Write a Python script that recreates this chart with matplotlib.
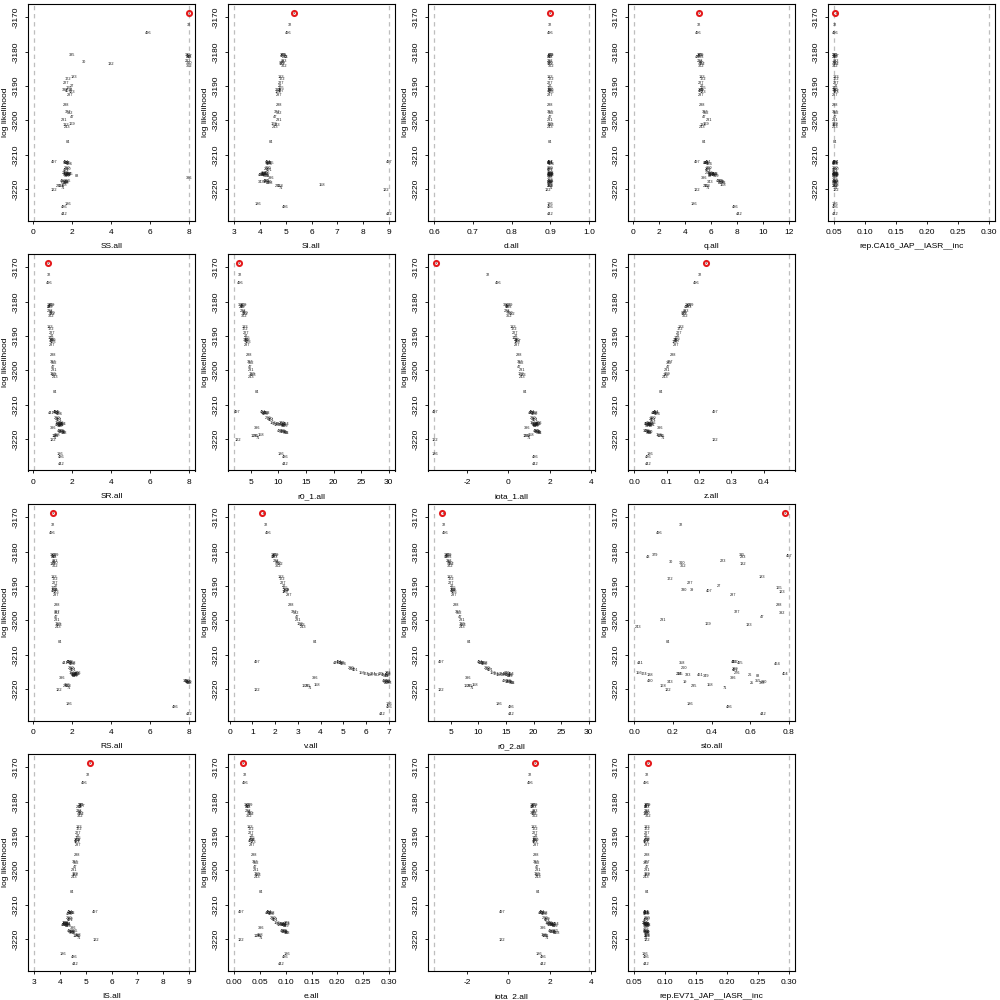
import matplotlib
matplotlib.use('Agg')
import matplotlib.pyplot as plt

plt.rcParams['font.family'] = ['Liberation Sans', 'DejaVu Sans']

ids = ["1","32","496",
       "385","457","43","379","283",
       "30","310","223","132","362",
       "183","172","227","27",
       "165","330","39","407","123",
       "287","288",
       "327","392","47","231",
       "169","133","243","84",
       "441","497","481","495","464","358",
       "260","210","401",
       "156","174","138","224","333","135","461","349","276","26","88","404",
       "396",
       "430","343","290","19","25","355","328",
       "168","235","71","158",
       "122","186","486","442"]

loglik = [-3168.7, -3172.3, -3174.4,
          -3180.9, -3181.2, -3181.4, -3181.0, -3181.6,
          -3182.9, -3183.2, -3182.7, -3183.6, -3184.0,
          -3187.2, -3187.9, -3189.0, -3190.0,
          -3190.6, -3191.1, -3191.0, -3191.3, -3191.6,
          -3192.6, -3195.6,
          -3197.4, -3197.7, -3199.1, -3200.0,
          -3201.0, -3201.4, -3201.8, -3206.4,
          -3212.4, -3212.2, -3212.0, -3212.3, -3212.6, -3212.5,
          -3213.8, -3214.1, -3214.3,
          -3215.3, -3215.6, -3215.8, -3215.5, -3216.0, -3215.7, -3215.9, -3216.1, -3215.4, -3215.8, -3216.2, -3215.6,
          -3216.6,
          -3217.6, -3217.9, -3218.0, -3217.8, -3218.1, -3217.7, -3218.2,
          -3219.2, -3219.0, -3219.5, -3218.9,
          -3220.3, -3224.2, -3225.3, -3227.2]

SS = [8.0, 8.0, 5.9,
      2.0, 8.0, 8.0, 7.95, 8.0,
      2.6, 8.0, 7.95, 4.0, 8.0,
      2.1, 1.8, 1.7, 2.0,
      1.85, 1.65, 1.95, 1.8, 2.0,
      1.9, 1.7,
      1.8, 1.9, 2.0, 1.6,
      2.0, 1.7, 1.75, 1.8,
      1.75, 1.1, 1.7, 1.8, 1.85, 1.7,
      1.75, 1.8, 1.7,
      1.7, 1.8, 1.75, 1.85, 1.7, 1.9, 1.8, 1.75, 1.65, 1.85, 2.25, 1.7,
      8.0,
      1.55, 1.7, 1.6, 1.75, 1.65, 1.8, 1.7,
      1.45, 1.35, 1.55, 1.6,
      1.05, 1.8, 1.6, 1.6]

SI = [5.33, 5.16, 5.1,
      4.95, 4.9, 5.0, 4.88, 4.97,
      4.9, 4.86, 4.95, 4.85, 4.92,
      4.82, 4.86, 4.8, 4.76,
      4.8, 4.7, 4.76, 4.82, 4.68,
      4.72, 4.73,
      4.66, 4.74, 4.6, 4.75,
      4.55, 4.65, 4.6, 4.42,
      4.38, 9.0, 4.32, 4.42, 4.36, 4.3,
      4.3, 4.26, 4.36,
      4.15, 4.1, 4.2, 4.25, 4.08, 4.16, 4.05, 4.22, 4.27, 4.12, 4.3, 4.18,
      4.45,
      4.25, 4.06, 4.35, 4.2, 4.3, 4.26, 4.4,
      4.77, 4.7, 4.82, 6.39,
      8.87, 3.93, 4.97, 9.0]

d = [0.9, 0.9, 0.9,
     0.901, 0.899, 0.9, 0.902, 0.9,
     0.9, 0.901, 0.899, 0.9, 0.902,
     0.9, 0.901, 0.899, 0.9,
     0.9, 0.902, 0.899, 0.9, 0.901,
     0.9, 0.9,
     0.9, 0.901, 0.899, 0.9,
     0.9, 0.901, 0.9, 0.9,
     0.9, 0.899, 0.901, 0.9, 0.902, 0.899,
     0.9, 0.901, 0.9,
     0.899, 0.9, 0.901, 0.902, 0.9, 0.899, 0.901, 0.9, 0.902, 0.9, 0.901, 0.899,
     0.9,
     0.9, 0.901, 0.899, 0.902, 0.9, 0.901, 0.9,
     0.9, 0.899, 0.901, 0.9,
     0.895, 0.9, 0.9, 0.9]

q = [5.05, 5.05, 5.05,
     5.15, 5.2, 4.9, 5.25, 5.2,
     5.25, 5.2, 5.15, 5.3, 5.25,
     5.3, 5.35, 5.25, 5.3,
     5.35, 5.2, 5.3, 5.25, 5.35,
     5.2, 5.3,
     5.55, 5.6, 5.5, 5.85,
     5.6, 5.4, 5.3, 5.45,
     5.6, 4.95, 5.75, 5.7, 5.85, 5.65,
     5.85, 5.8, 5.75,
     5.9, 6.0, 6.1, 6.2, 6.3, 6.1, 6.0, 6.4, 5.8, 6.2, 5.95, 6.35,
     5.5,
     6.6, 5.9, 6.75, 6.9, 6.7, 6.8, 6.95,
     5.7, 5.6, 5.75, 6.9,
     4.9, 4.7, 7.9, 8.2]

repCA16 = [0.052, 0.052, 0.052,
           0.052, 0.053, 0.052, 0.051, 0.052,
           0.052, 0.052, 0.053, 0.052, 0.051,
           0.052, 0.052, 0.053, 0.052,
           0.052, 0.051, 0.052, 0.053, 0.052,
           0.052, 0.052,
           0.052, 0.053, 0.052, 0.052,
           0.052, 0.051, 0.052, 0.052,
           0.052, 0.052, 0.053, 0.052, 0.051, 0.052,
           0.052, 0.053, 0.052,
           0.052, 0.053, 0.052, 0.051, 0.052, 0.053, 0.052, 0.052, 0.051, 0.053, 0.055, 0.052,
           0.052,
           0.052, 0.053, 0.052, 0.051, 0.052, 0.053, 0.052,
           0.052, 0.052, 0.053, 0.052,
           0.052, 0.052, 0.052, 0.052]

SR = [0.77, 0.8, 0.8,
      0.85, 0.9, 0.82, 0.95, 0.88,
      0.9, 0.95, 0.87, 0.98, 0.92,
      0.88, 0.92, 0.95, 0.97,
      0.9, 1.0, 0.95, 0.98, 1.02,
      0.98, 1.03,
      1.0, 1.05, 1.02, 1.06,
      1.04, 1.08, 1.1, 1.11,
      0.94, 1.2, 1.2, 1.28, 1.32, 1.25,
      1.22, 1.28, 1.35,
      1.25, 1.3, 1.35, 1.4, 1.45, 1.5, 1.3, 1.38, 1.42, 1.48, 1.35, 1.52,
      1.03,
      1.4, 1.45, 1.5, 1.55, 1.6, 1.48, 1.58,
      1.12, 1.18, 1.1, 1.2,
      1.03, 1.37, 1.45, 1.45]

r0_1 = [2.9, 3.0, 3.1,
        3.3, 3.6, 3.4, 3.8, 3.5,
        3.7, 3.9, 3.6, 4.0, 3.8,
        3.9, 4.0, 4.1, 4.2,
        4.3, 4.2, 4.4, 4.3, 4.5,
        4.4, 4.7,
        4.9, 5.1, 4.8, 5.0,
        5.2, 5.4, 5.1, 6.1,
        7.4, 2.6, 7.2, 7.8, 7.6, 8.0,
        8.2, 8.5, 8.7,
        9.0, 9.4, 9.8, 10.2, 10.5, 10.8, 11.0, 11.3, 10.6, 11.1, 10.9, 11.4,
        6.1,
        10.4, 10.7, 11.0, 11.2, 11.5, 10.9, 11.3,
        5.5, 5.9, 6.3, 6.8,
        2.7, 10.4, 11.3, 11.2]

iota_1 = [-3.5, -1.0, -0.5,
          -0.1, 0.0, -0.05, 0.1, 0.05,
          0.0, 0.1, -0.05, 0.15, 0.05,
          0.2, 0.25, 0.3, 0.35,
          0.3, 0.4, 0.35, 0.45, 0.4,
          0.4, 0.5,
          0.55, 0.6, 0.5, 0.65,
          0.6, 0.7, 0.65, 0.8,
          1.1, -3.55, 1.15, 1.2, 1.25, 1.3,
          1.2, 1.25, 1.3,
          1.2, 1.25, 1.3, 1.35, 1.4, 1.45, 1.3, 1.35, 1.5, 1.4, 1.3, 1.45,
          0.9,
          1.35, 1.4, 1.45, 1.5, 1.55, 1.4, 1.5,
          0.85, 0.9, 1.0, 1.1,
          -3.55, -3.55, 1.3, 1.3]

z = [0.221, 0.203, 0.192,
     0.165, 0.17, 0.16, 0.175, 0.168,
     0.158, 0.155, 0.16, 0.152, 0.156,
     0.145, 0.14, 0.138, 0.135,
     0.133, 0.13, 0.128, 0.132, 0.127,
     0.128, 0.12,
     0.11, 0.108, 0.104, 0.1,
     0.1, 0.097, 0.095, 0.084,
     0.062, 0.249, 0.068, 0.065, 0.07, 0.066,
     0.058, 0.056, 0.059,
     0.045, 0.04, 0.048, 0.052, 0.042, 0.05, 0.055, 0.044, 0.058, 0.047, 0.053, 0.041,
     0.079,
     0.04, 0.045, 0.048, 0.042, 0.05, 0.038, 0.046,
     0.08, 0.085, 0.088, 0.076,
     0.249, 0.05, 0.043, 0.043]

RS = [1.0, 1.0, 1.0,
      1.0, 1.1, 1.05, 1.15, 1.08,
      1.05, 1.1, 1.12, 1.0, 1.15,
      1.05, 1.1, 1.12, 1.15,
      1.08, 1.12, 1.18, 1.1, 1.15,
      1.15, 1.2,
      1.2, 1.25, 1.15, 1.22,
      1.25, 1.3, 1.28, 1.4,
      1.66, 1.9, 1.85, 1.95, 2.0, 2.05,
      1.95, 2.0, 2.05,
      2.0, 2.05, 2.1, 2.15, 2.2, 2.25, 2.1, 2.15, 2.3, 2.2, 2.1, 2.25,
      1.5,
      7.9, 7.95, 8.0, 7.92, 7.98, 7.88, 8.0,
      1.8, 1.7, 1.85, 1.75,
      1.3, 1.85, 7.3, 8.0]

v = [1.44, 1.61, 1.69,
     1.95, 2.0, 1.9, 2.05, 2.0,
     2.1, 2.15, 2.05, 2.2, 2.15,
     2.25, 2.3, 2.35, 2.4,
     2.45, 2.5, 2.55, 2.5, 2.45,
     2.6, 2.7,
     2.85, 2.9, 2.95, 3.0,
     3.1, 3.2, 3.25, 3.77,
     4.7, 1.2, 4.8, 4.9, 5.0, 4.95,
     5.35, 5.4, 5.5,
     5.8, 6.0, 6.15, 6.3, 6.5, 6.65, 6.8, 6.9, 6.95, 7.0, 6.9, 6.98,
     3.74,
     6.85, 6.9, 6.95, 7.0, 6.88, 6.97, 7.0,
     3.3, 3.45, 3.55, 3.82,
     1.2, 7.0, 7.0, 6.7]

r0_2 = [3.5, 3.8, 4.0,
        4.3, 4.5, 4.2, 4.7, 4.6,
        4.6, 4.8, 4.7, 5.0, 4.9,
        4.9, 5.0, 5.1, 5.3,
        5.4, 5.5, 5.6, 5.45, 5.65,
        5.6, 6.0,
        6.3, 6.5, 6.7, 7.0,
        7.0, 7.2, 7.1, 8.3,
        10.5, 3.2, 10.3, 10.8, 11.0, 11.2,
        11.6, 11.8, 12.1,
        12.7, 13.2, 13.7, 14.2, 14.6, 15.0, 15.4, 15.7, 15.2, 15.9, 15.5, 16.0,
        8.1,
        14.9, 15.3, 15.6, 15.9, 16.2, 15.5, 16.1,
        7.9, 8.4, 8.8, 9.3,
        3.2, 13.8, 16.0, 16.0]

sto = [0.78, 0.24, 0.13,
       0.56, 0.80, 0.07, 0.11, 0.565,
       0.19, 0.25, 0.46, 0.56, 0.255,
       0.66, 0.185, 0.29, 0.44,
       0.75, 0.26, 0.30, 0.39, 0.765,
       0.51, 0.75,
       0.53, 0.765, 0.66, 0.15,
       0.38, 0.595, 0.02, 0.175,
       0.03, 0.52, 0.515, 0.55, 0.74, 0.245,
       0.26, 0.52, 0.525,
       0.025, 0.05, 0.08, 0.23, 0.28, 0.235, 0.34, 0.37, 0.53, 0.6, 0.64, 0.78,
       0.51,
       0.08, 0.185, 0.67, 0.26, 0.61, 0.64, 0.66,
       0.15, 0.31, 0.47, 0.39,
       0.175, 0.29, 0.49, 0.67]

IS = [5.15, 5.1, 4.95,
      4.8, 4.85, 4.78, 4.82, 4.75,
      4.78, 4.8, 4.75, 4.83, 4.77,
      4.72, 4.75, 4.7, 4.68,
      4.7, 4.66, 4.72, 4.68, 4.65,
      4.7, 4.65,
      4.6, 4.62, 4.58, 4.55,
      4.58, 4.6, 4.55, 4.45,
      4.42, 5.35, 4.4, 4.45, 4.38, 4.48,
      4.35, 4.4, 4.38,
      4.18, 4.22, 4.25, 4.3, 4.2, 4.28, 4.15, 4.32, 4.24, 4.35, 4.26, 4.2,
      4.5,
      4.38, 4.45, 4.5, 4.42, 4.55, 4.6, 4.48,
      4.62, 4.7, 4.75, 4.68,
      5.4, 4.1, 4.55, 4.6]

e = [0.0175, 0.021, 0.022,
     0.025, 0.028, 0.026, 0.03, 0.027,
     0.028, 0.03, 0.027, 0.032, 0.029,
     0.031, 0.033, 0.032, 0.034,
     0.034, 0.035, 0.036, 0.033, 0.037,
     0.035, 0.038,
     0.04, 0.042, 0.041, 0.043,
     0.045, 0.047, 0.044, 0.053,
     0.066, 0.014, 0.068, 0.07, 0.072, 0.074,
     0.076, 0.078, 0.08,
     0.083, 0.086, 0.089, 0.092, 0.094, 0.096, 0.098, 0.1, 0.102, 0.097, 0.099, 0.103,
     0.053,
     0.095, 0.097, 0.099, 0.1, 0.102, 0.098, 0.103,
     0.045, 0.048, 0.051, 0.05,
     0.014, 0.102, 0.098, 0.092]

iota_2 = [1.3, 1.05, 1.05,
          1.2, 1.25, 1.15, 1.3, 1.22,
          1.25, 1.2, 1.3, 1.22, 1.28,
          1.25, 1.3, 1.28, 1.32,
          1.3, 1.35, 1.28, 1.32, 1.3,
          1.32, 1.35,
          1.35, 1.38, 1.4, 1.42,
          1.4, 1.45, 1.42, 1.45,
          1.6, -0.3, 1.65, 1.7, 1.75, 1.8,
          1.8, 1.85, 1.9,
          1.9, 1.95, 2.0, 2.05, 2.1, 2.15, 2.2, 2.25, 2.0, 2.1, 2.2, 2.3,
          1.7,
          2.05, 2.1, 2.15, 2.2, 2.25, 2.3, 2.35,
          1.75, 1.8, 1.85, 1.7,
          -0.3, 1.5, 1.7, 1.7]

repEV71 = [0.072, 0.071, 0.07,
           0.07, 0.071, 0.069, 0.072, 0.07,
           0.07, 0.071, 0.07, 0.069, 0.072,
           0.07, 0.071, 0.07, 0.069,
           0.07, 0.071, 0.072, 0.07, 0.069,
           0.07, 0.071,
           0.07, 0.069, 0.071, 0.07,
           0.07, 0.071, 0.069, 0.07,
           0.069, 0.07, 0.07, 0.071, 0.069, 0.07,
           0.07, 0.071, 0.069,
           0.068, 0.069, 0.07, 0.071, 0.072, 0.07, 0.069, 0.071, 0.068, 0.07, 0.072, 0.069,
           0.07,
           0.069, 0.07, 0.071, 0.072, 0.07, 0.069, 0.071,
           0.07, 0.071, 0.069, 0.07,
           0.071, 0.068, 0.07, 0.07]

param_names = ["SS.all", "SI.all", "d.all", "q.all", "rep.CA16_JAP__IASR__inc",
               "SR.all", "r0_1.all", "iota_1.all", "z.all",
               "RS.all", "v.all", "r0_2.all", "sto.all",
               "IS.all", "e.all", "iota_2.all", "rep.EV71_JAP__IASR__inc"]
param_values = [SS, SI, d, q, repCA16, SR, r0_1, iota_1, z, RS, v, r0_2, sto, IS, e, iota_2, repEV71]
lower_bounds = [0.05, 3, 0.6, 0.08, 0.05, 0.05, 2, -3.6, 0, 0.05, 0.2, 2, 0, 3, 0, -3.6, 0.05]
upper_bounds = [8, 9, 1.0, 12, 0.3, 8, 30, 3.9, 0.477, 8, 7, 30, 0.8, 9, 0.3, 3.9, 0.3]
x_ticks = [[0, 2, 4, 6, 8], [3, 4, 5, 6, 7, 8, 9], [0.6, 0.7, 0.8, 0.9, 1.0], [0, 2, 4, 6, 8, 10, 12],
           [0.05, 0.10, 0.15, 0.20, 0.25, 0.30],
           [0, 2, 4, 6, 8], [5, 10, 15, 20, 25, 30], [-2, 0, 2, 4], [0.0, 0.1, 0.2, 0.3, 0.4],
           [0, 2, 4, 6, 8], [0, 1, 2, 3, 4, 5, 6, 7], [5, 10, 15, 20, 25, 30], [0.0, 0.2, 0.4, 0.6, 0.8],
           [3, 4, 5, 6, 7, 8, 9], [0.00, 0.05, 0.10, 0.15, 0.20, 0.25, 0.30], [-2, 0, 2, 4],
           [0.05, 0.10, 0.15, 0.20, 0.25, 0.30]]
x_tick_fmt = ["{:g}", "{:g}", "{:.1f}", "{:g}", "{:.2f}",
              "{:g}", "{:g}", "{:g}", "{:.1f}",
              "{:g}", "{:g}", "{:g}", "{:.1f}",
              "{:g}", "{:.2f}", "{:g}", "{:.2f}"]
grid_pos = [(0, 0), (0, 1), (0, 2), (0, 3), (0, 4),
            (1, 0), (1, 1), (1, 2), (1, 3),
            (2, 0), (2, 1), (2, 2), (2, 3),
            (3, 0), (3, 1), (3, 2), (3, 3)]
y_ticks = [-3170, -3180, -3190, -3200, -3210, -3220]

fig = plt.figure(figsize=(10, 10), dpi=100)
imax = loglik.index(max(loglik))

for k, name in enumerate(param_names):
    r, c = grid_pos[k]
    xv = param_values[k]
    lo, hi = lower_bounds[k], upper_bounds[k]
    left = (200 * c + 28) / 1000
    bottom = 1 - (250 * r + 220.5) / 1000
    ax = fig.add_axes([left, bottom, 0.167, 0.2165])
    pad = 0.04 * (hi - lo)
    ax.set_xlim(lo - pad, hi + pad)
    ax.set_ylim(-3229.1, -3166.1)
    for b in (lo, hi):
        ax.axvline(b, color='#BEBEBE', lw=0.9, ls=(0, (3.5, 3)), zorder=1)
    for xx, yy, t in zip(xv, loglik, ids):
        ax.text(xx, yy, t, fontsize=2.8, ha='center', va='center', color='#1a1a1a', zorder=3)
    ax.plot([xv[imax]], [loglik[imax]], 'o', mfc='none', mec='#E41A1C', ms=3.6, mew=1.5, zorder=4)
    ax.set_xticks(x_ticks[k])
    ax.set_xticklabels([x_tick_fmt[k].format(t) for t in x_ticks[k]])
    ax.set_yticks(y_ticks)
    ax.set_yticklabels([str(t) for t in y_ticks], rotation=90, va='center')
    ax.tick_params(direction='out', length=2.5, width=0.6, labelsize=6, pad=3.5)
    for s in ax.spines.values():
        s.set_linewidth(0.8)
    ax.set_xlabel(name, fontsize=6)
    ax.set_ylabel("log likelihood", fontsize=6)
    ax.xaxis.set_label_coords(0.5, -0.12)
    ax.xaxis.label.set_va('center')
    ax.yaxis.set_label_coords(-0.134, 0.5)
    ax.yaxis.label.set_va('center')

fig.savefig("out.png", dpi=100)
